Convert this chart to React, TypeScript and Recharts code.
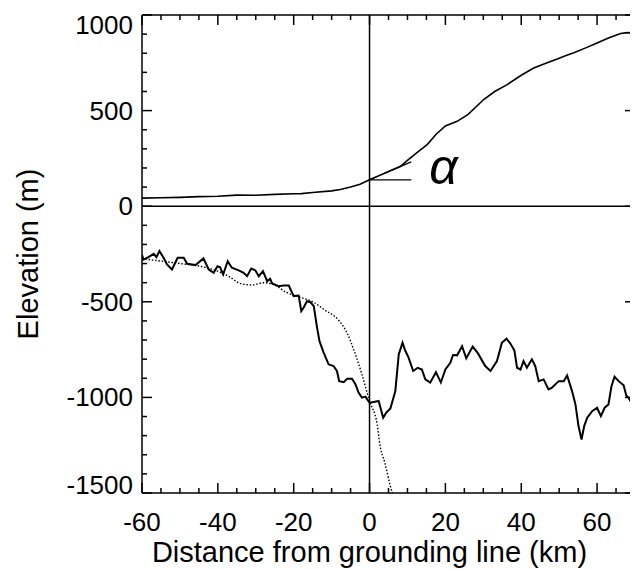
import { ComposedChart, Line, XAxis, YAxis, ReferenceLine, ReferenceDot } from "recharts"

const FONT = "'Liberation Sans', Arial, Helvetica, sans-serif"

// ice surface elevation (m)
const surfaceKm = [-60, -55, -50, -45, -40, -35, -30, -25, -20, -18, -15, -10, -7.7, -5, -2.5, 0, 2.5, 5, 8.2, 10, 12.5, 15.2, 17.5, 20, 23.1, 26, 30.1, 33, 36.3, 40, 43.3, 46.5, 49.5, 52, 53.9, 57, 60, 63, 66.2, 68, 70]
const surfaceElev = [42, 44, 46, 50, 52, 58, 57, 62, 65, 66, 72, 80, 87, 100, 115, 138, 160, 182, 209, 240, 280, 322, 375, 420, 444, 480, 558, 600, 636, 685, 723, 748, 770, 790, 802, 828, 854, 880, 903, 908, 903]

// bed elevation (m)
const bedKm = [-60, -59.6, -58.3, -56.9, -56.2, -55.4, -54.3, -53.4, -52.1, -50.6, -49, -48.1, -45.9, -43.8, -42.4, -41.1, -40.1, -39.4, -38.6, -37.4, -36.3, -34.5, -33.2, -32.3, -31.2, -30.1, -29.2, -28.1, -27, -26.2, -25.7, -24, -22.7, -21.3, -20, -18.7, -18, -17.4, -16.5, -15.6, -14.7, -13.9, -13.2, -12.1, -10.8, -9.5, -8.6, -8, -6.8, -5.9, -4.6, -3.7, -2.9, -2, -1.1, 0, 1.1, 2.4, 3.6, 4.4, 5.5, 6.8, 7.7, 8.7, 9.4, 10.3, 11.5, 12.7, 13.8, 14.7, 16, 17.5, 18.8, 20, 21.3, 22, 23.1, 24.4, 25.5, 27.2, 28.6, 30.5, 31.9, 33.6, 34.9, 36.1, 37.1, 38.2, 38.9, 39.8, 40.6, 41.5, 42.8, 43.7, 44.6, 45.9, 47.2, 48.1, 49.9, 51.2, 52.1, 53.4, 54.3, 55.1, 55.9, 56.6, 57.4, 58.7, 60, 61, 62, 63, 63.8, 64.6, 65.7, 67, 67.7, 68.3, 69.5, 70]
const bedElev = [-255, -279, -266, -249, -266, -235, -270, -305, -331, -270, -270, -301, -308, -273, -331, -348, -314, -319, -357, -288, -322, -336, -348, -366, -326, -336, -366, -340, -392, -380, -404, -418, -415, -415, -470, -467, -549, -531, -497, -502, -523, -627, -706, -766, -827, -836, -862, -915, -920, -902, -902, -932, -975, -1001, -996, -1028, -1024, -1019, -1106, -1080, -1058, -967, -775, -714, -755, -792, -862, -845, -854, -906, -923, -868, -922, -854, -819, -778, -780, -732, -795, -734, -770, -836, -862, -810, -714, -693, -717, -755, -845, -854, -810, -845, -801, -836, -915, -906, -958, -949, -915, -915, -885, -967, -1037, -1150, -1220, -1150, -1106, -1072, -1054, -1098, -1054, -1037, -941, -892, -915, -937, -990, -1002, -1042, -1042]

// dotted curve (m)
const dottedKm = [-60, -55, -50, -45, -40, -37, -34, -31, -28, -25, -22, -18, -15, -12, -8, -6, -4, -2, 0, 2, 2.8, 4, 5.5, 7]
const dottedElev = [-275, -287, -300, -313, -340, -368, -405, -412, -400, -412, -450, -478, -500, -540, -600, -660, -760, -880, -1020, -1140, -1255, -1340, -1464, -1560]

// slope annotation at the grounding line
const angleKm = [0, 11]
const angleBase = [138, 138]
const angleSlope = [138, 232]

const xDomain = [-60, 70]
const yDomain = [-1500, 1000]
const xTicks = [-60, -55, -50, -45, -40, -35, -30, -25, -20, -15, -10, -5, 0, 5, 10, 15, 20, 25, 30, 35, 40, 45, 50, 55, 60, 65, 70]
const yTicks = [-1500, -1400, -1300, -1200, -1100, -1000, -900, -800, -700, -600, -500, -400, -300, -200, -100, 0, 100, 200, 300, 400, 500, 600, 700, 800, 900, 1000]
const xLabels = [-60, -40, -20, 0, 20, 40, 60]
const yLabels = [-1500, -1000, -500, 0, 500, 1000]

const toRows = (xs: number[], ys: number[]) => xs.map((x, i) => ({ x, y: ys[i] }))

const surface = toRows(surfaceKm, surfaceElev)
const bed = toRows(bedKm, bedElev)
const dotted = toRows(dottedKm, dottedElev)

// plot box in px, used to turn tick lengths into data units
const PLOT_W = 493
const PLOT_H = 478
const kmPerPx = (xDomain[1] - xDomain[0]) / PLOT_W
const mPerPx = (yDomain[1] - yDomain[0]) / PLOT_H

const isMajorX = (v: number) => xLabels.includes(v)
const isMajorY = (v: number) => yLabels.includes(v)
const tickLen = (major: boolean) => (major ? 10 : 5)

const BottomTick = ({ x, y, payload }: any) =>
  isMajorX(payload.value) ? (
    <text x={x} y={y + 38} textAnchor="middle" fontSize={26} fontFamily={FONT} fill="#000">
      {payload.value}
    </text>
  ) : (
    <g />
  )

const LeftTick = ({ x, y, payload }: any) => {
  const v = payload.value
  if (!isMajorY(v)) return <g />
  const shift = v === yDomain[1] ? 10 : v === yDomain[0] ? -8 : 0
  return (
    <text x={x - 9} y={y + 9 + shift} textAnchor="end" fontSize={26} fontFamily={FONT} fill="#000">
      {v}
    </text>
  )
}

// inward tick marks on all four sides of the box
const tickSegs = [
  ...xTicks.flatMap((v) => {
    const d = tickLen(isMajorX(v)) * mPerPx
    return [
      [{ x: v, y: yDomain[0] }, { x: v, y: yDomain[0] + d }],
      [{ x: v, y: yDomain[1] }, { x: v, y: yDomain[1] - d }],
    ]
  }),
  ...yTicks.flatMap((v) => {
    const d = tickLen(isMajorY(v)) * kmPerPx
    return [
      [{ x: xDomain[0], y: v }, { x: xDomain[0] + d, y: v }],
      [{ x: xDomain[1], y: v }, { x: xDomain[1] - d, y: v }],
    ]
  }),
]

const axisStroke = { stroke: "#000", strokeWidth: 1.5 }

export default function App() {
  return (
    <div style={{ width: 630, height: 561, background: "#fff" }}>
      <ComposedChart width={630} height={561} margin={{ top: 6, right: 2, left: 14, bottom: 0 }}>
        <XAxis
          type="number"
          dataKey="x"
          domain={xDomain}
          ticks={xTicks}
          interval={0}
          tickSize={0}
          tickMargin={0}
          tickLine={false}
          tick={<BottomTick />}
          height={76}
          axisLine={axisStroke}
          allowDataOverflow
          label={{
            content: ({ viewBox }: any) => (
              <text
                x={viewBox.x + viewBox.width / 2 - 19}
                y={viewBox.y + 69}
                textAnchor="middle"
                fontSize={29}
                fontFamily={FONT}
                fill="#000"
              >
                Distance from grounding line (km)
              </text>
            ),
          }}
        />
        <XAxis
          xAxisId="top"
          orientation="top"
          type="number"
          domain={xDomain}
          allowDataOverflow
          ticks={xTicks}
          tickLine={false}
          tick={false}
          height={1}
          axisLine={axisStroke}
        />
        <YAxis
          type="number"
          domain={yDomain}
          ticks={yTicks}
          interval={0}
          tickSize={0}
          tickMargin={0}
          tickLine={false}
          tick={<LeftTick />}
          width={120}
          axisLine={axisStroke}
          allowDataOverflow
          label={{
            content: ({ viewBox }: any) => {
              const cx = viewBox.x + 16
              const cy = viewBox.y + viewBox.height / 2
              return (
                <text
                  x={cx}
                  y={cy}
                  transform={`rotate(-90 ${cx} ${cy})`}
                  textAnchor="middle"
                  fontSize={29}
                  fontFamily={FONT}
                  fill="#000"
                >
                  Elevation (m)
                </text>
              )
            },
          }}
        />
        <YAxis
          yAxisId="right"
          orientation="right"
          type="number"
          domain={yDomain}
          allowDataOverflow
          ticks={yTicks}
          tickLine={false}
          tick={false}
          width={1}
          axisLine={axisStroke}
        />
        {tickSegs.map((seg, i) => (
          <ReferenceLine key={i} segment={seg} stroke="#000" strokeWidth={1.5} ifOverflow="visible" />
        ))}
        <ReferenceLine x={0} stroke="#000" strokeWidth={1.5} />
        <ReferenceLine y={0} stroke="#000" strokeWidth={1.5} />
        <ReferenceLine
          segment={[
            { x: angleKm[0], y: angleBase[0] },
            { x: angleKm[1], y: angleBase[1] },
          ]}
          stroke="#000"
          strokeWidth={1.2}
        />
        <ReferenceLine
          segment={[
            { x: angleKm[0], y: angleSlope[0] },
            { x: angleKm[1], y: angleSlope[1] },
          ]}
          stroke="#000"
          strokeWidth={1.2}
        />
        <ReferenceDot
          x={19.5}
          y={207}
          r={0}
          stroke="none"
          label={{ value: "α", position: "center", fontSize: 50, fontStyle: "italic", fontFamily: FONT, fill: "#000" }}
        />
        <Line data={surface} dataKey="y" type="linear" stroke="#000" strokeWidth={1.6} dot={false} isAnimationActive={false} />
        <Line
          data={dotted}
          dataKey="y"
          type="monotone"
          stroke="#000"
          strokeWidth={1.4}
          strokeDasharray="1.5 1.8"
          dot={false}
          isAnimationActive={false}
        />
        <Line data={bed} dataKey="y" type="linear" stroke="#000" strokeWidth={2} dot={false} isAnimationActive={false} />
      </ComposedChart>
    </div>
  )
}
